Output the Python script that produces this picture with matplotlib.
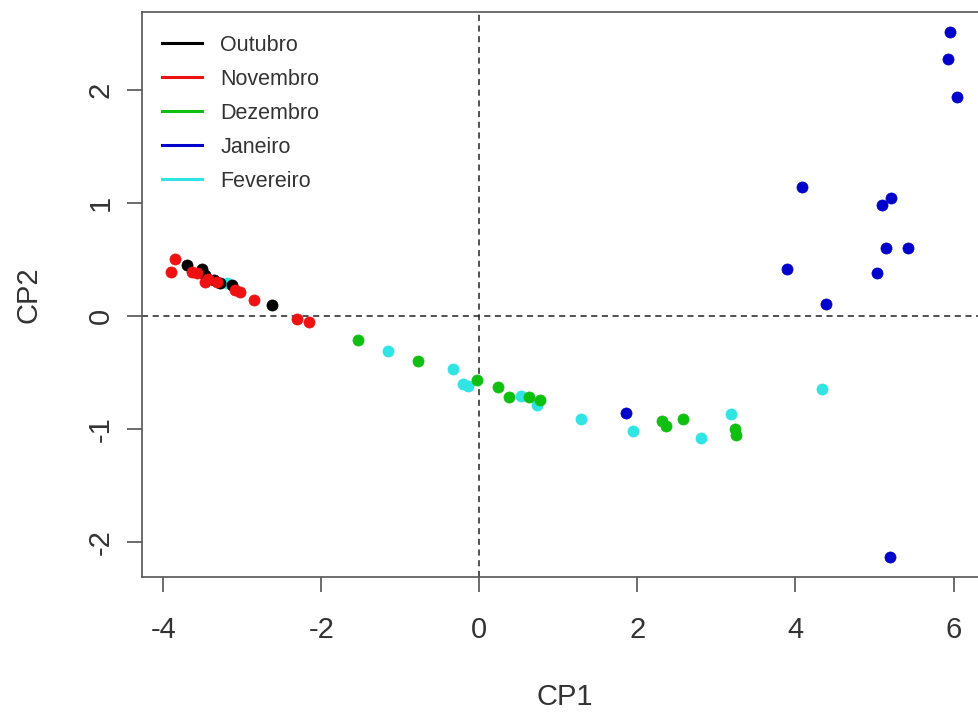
import matplotlib.pyplot as plt
from matplotlib.lines import Line2D

plt.rcParams['font.family'] = ['Liberation Sans', 'DejaVu Sans']

# PCA scores, one pair of arrays per month
out_x = [-3.70, -3.51, -3.47, -3.36, -3.28, -3.13, -2.62]
out_y = [0.45, 0.42, 0.36, 0.32, 0.29, 0.27, 0.10]

nov_x = [-3.85, -3.90, -3.64, -3.57, -3.43, -3.47, -3.32, -3.09, -3.03, -2.85, -2.31, -2.16]
nov_y = [0.50, 0.39, 0.39, 0.38, 0.33, 0.30, 0.30, 0.23, 0.21, 0.14, -0.03, -0.05]

dez_x = [-1.54, -0.78, -0.03, 0.24, 0.38, 0.63, 0.77, 2.31, 2.36, 2.58, 3.24, 3.25]
dez_y = [-0.21, -0.40, -0.57, -0.63, -0.72, -0.72, -0.74, -0.93, -0.97, -0.91, -1.00, -1.05]

jan_x = [5.95, 5.93, 6.05, 4.08, 5.10, 5.21, 5.14, 5.43, 3.89, 5.03, 4.39, 5.19, 1.85]
jan_y = [2.51, 2.27, 1.94, 1.14, 0.98, 1.04, 0.60, 0.60, 0.42, 0.38, 0.11, -2.13, -0.86]

fev_x = [-3.19, -1.16, -0.33, -0.21, -0.14, 0.53, 0.73, 1.28, 1.94, 2.81, 3.18, 4.33]
fev_y = [0.29, -0.31, -0.47, -0.60, -0.62, -0.71, -0.79, -0.91, -1.02, -1.08, -0.87, -0.65]

months = ['Outubro', 'Novembro', 'Dezembro', 'Janeiro', 'Fevereiro']
colors = ['black', '#ee1111', '#10c010', '#0000cc', '#30e4e4']
xticks = [-4, -2, 0, 2, 4, 6]
yticks = [-2, -1, 0, 1, 2]

txt = '#333333'
fig = plt.figure(figsize=(9.79, 7.14), dpi=100)
# the right edge of the box lies outside the picture, as in the reference
ax = fig.add_axes([142/979, 1 - 577/714, (997 - 142)/979, 565/714])

series = [(fev_x, fev_y), (out_x, out_y), (nov_x, nov_y), (dez_x, dez_y), (jan_x, jan_y)]
order = [4, 0, 1, 2, 3]
for k, (xs, ys) in zip(order, series):
    ax.plot(xs, ys, 'o', color=colors[k], ms=8, mec=colors[k], mew=0.5, zorder=3)

ax.axhline(0, color='#222222', ls=(0, (4, 3)), lw=1.1, zorder=2)
ax.axvline(0, color='#222222', ls=(0, (4, 3)), lw=1.1, zorder=2)

ax.set_xlim(-4.27, 6.55)
ax.set_ylim(-2.31, 2.69)
ax.set_xticks(xticks)
ax.set_yticks(yticks)
ax.set_xticklabels([str(t) for t in xticks])
ax.set_yticklabels([str(t) for t in yticks], rotation=90, va='center')
ax.tick_params(axis='both', direction='out', length=10.8, width=1.1,
               color='#444444', labelsize=21, labelcolor=txt)
ax.tick_params(axis='x', pad=17)
ax.tick_params(axis='y', pad=9)
for s in ax.spines.values():
    s.set_color('#555555')
    s.set_linewidth(1.2)

ax.set_xlabel('CP1', fontsize=21, color=txt)
ax.set_ylabel('CP2', fontsize=21, color=txt)
ax.xaxis.set_label_coords((565 - 142) / 855, -(683 - 577) / 565)
ax.yaxis.set_label_coords((43 - 142) / 855, 0.5)

handles = [Line2D([0], [0], color=c, lw=2.2) for c in colors]
ax.legend(handles, months, loc='upper left', bbox_to_anchor=(162/979, 1 - 35/714),
          bbox_transform=fig.transFigure, frameon=False, fontsize=15.5,
          handlelength=1.86, handletextpad=0.84, labelspacing=0.60,
          borderpad=0, borderaxespad=0, labelcolor=txt)

fig.savefig('out.png', dpi=100)
